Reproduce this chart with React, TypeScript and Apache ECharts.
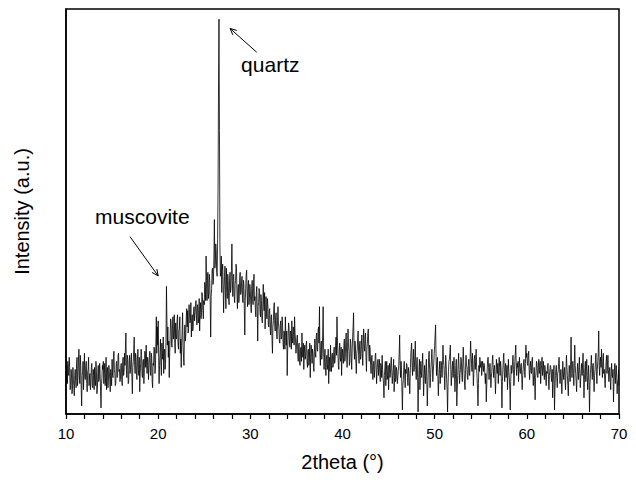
import React, { useEffect, useRef } from "react";
import * as echarts from "echarts";

// 2theta sampling grid (degrees)
const START_2THETA = 10;
const STEP_2THETA = 0.05;

// Intensity (a.u.), one value per 0.05 degree (20 per row = 1 degree)
const int10to20 = [
  80, 105, 120, 75, 130, 100, 95, 140, 115, 60, 70, 110, 100, 50, 60, 115, 85, 70, 45, 95,
  110, 80, 65, 125, 140, 70, 90, 130, 160, 95, 75, 145, 120, 60, 20, 95, 105, 130, 60, 100,
  150, 90, 85, 120, 130, 75, 55, 105, 110, 140, 70, 95, 100, 60, 80, 115, 125, 70, 65, 110,
  95, 60, 115, 85, 70, 130, 105, 50, 60, 100, 120, 80, 85, 125, 100, 55, 15, 75, 90, 120,
  110, 130, 75, 100, 125, 70, 90, 140, 60, 105, 115, 65, 80, 120, 105, 85, 55, 110, 95, 70,
  135, 95, 90, 140, 155, 110, 100, 70, 75, 125, 130, 90, 95, 145, 150, 105, 110, 80, 85, 120,
  125, 85, 70, 130, 140, 95, 105, 150, 120, 165, 200, 110, 90, 145, 135, 75, 80, 125, 145, 100,
  110, 135, 150, 90, 50, 115, 130, 160, 190, 120, 100, 150, 140, 95, 85, 135, 160, 110, 95, 140,
  55, 100, 125, 160, 145, 95, 90, 130, 135, 75, 110, 155, 150, 115, 170, 120, 100, 140, 130, 85,
  115, 145, 155, 105, 95, 150, 140, 80, 65, 125, 120, 165, 160, 100, 110, 175, 240, 150, 215, 170,
];
const int20to30 = [
  230, 140, 75, 120, 150, 185, 120, 95, 175, 150, 135, 190, 100, 145, 160, 110, 125, 180, 315, 230,
  170, 215, 140, 180, 90, 150, 190, 235, 230, 175, 165, 210, 240, 185, 200, 245, 175, 150, 225, 190,
  185, 230, 245, 175, 160, 205, 210, 240, 150, 185, 115, 170, 205, 250, 170, 140, 120, 195, 220, 180,
  195, 240, 260, 215, 255, 200, 210, 270, 250, 225, 230, 275, 190, 230, 245, 205, 215, 260, 265, 230,
  230, 265, 280, 245, 220, 270, 265, 225, 240, 285, 205, 250, 275, 235, 250, 300, 290, 255, 235, 280,
  270, 325, 315, 280, 390, 330, 280, 340, 350, 285, 300, 345, 325, 270, 190, 290, 310, 355, 360, 320,
  330, 390, 480, 360, 370, 420, 400, 350, 340, 430, 560, 820, 975, 700, 420, 340, 350, 390, 300, 355,
  370, 320, 250, 305, 340, 365, 300, 260, 360, 315, 285, 345, 330, 280, 270, 335, 350, 300, 310, 355,
  420, 330, 290, 340, 345, 290, 275, 320, 330, 370, 360, 295, 260, 310, 320, 275, 290, 340, 350, 295,
  300, 325, 340, 285, 275, 330, 320, 260, 195, 280, 310, 345, 355, 300, 265, 315, 330, 270, 285, 320,
];
const int30to40 = [
  305, 270, 250, 310, 330, 285, 270, 325, 345, 280, 290, 255, 240, 300, 315, 260, 180, 265, 275, 310,
  300, 250, 240, 295, 280, 235, 225, 265, 320, 270, 255, 300, 210, 240, 290, 250, 235, 285, 270, 220,
  215, 255, 260, 210, 195, 240, 245, 185, 150, 215, 230, 265, 275, 220, 205, 240, 250, 200, 185, 230,
  265, 225, 210, 180, 175, 220, 230, 185, 190, 240, 215, 175, 160, 205, 200, 160, 240, 195, 170, 205,
  95, 160, 190, 225, 215, 170, 165, 205, 200, 160, 230, 190, 175, 215, 210, 170, 240, 200, 185, 150,
  150, 185, 195, 145, 130, 170, 175, 125, 120, 160, 165, 130, 200, 150, 140, 175, 110, 150, 170, 135,
  145, 170, 180, 130, 115, 155, 160, 120, 130, 175, 90, 140, 170, 150, 125, 160, 150, 115, 105, 155,
  185, 150, 140, 190, 200, 160, 155, 205, 215, 175, 265, 150, 120, 170, 180, 135, 150, 200, 265, 160,
  110, 140, 160, 115, 95, 135, 145, 110, 125, 160, 75, 120, 140, 105, 170, 130, 105, 145, 150, 115,
  120, 155, 165, 125, 135, 170, 190, 145, 240, 180, 150, 120, 110, 160, 175, 140, 130, 165, 95, 140,
];
const int40to50 = [
  160, 135, 125, 170, 185, 130, 140, 180, 200, 150, 115, 165, 210, 170, 155, 120, 130, 185, 175, 140,
  110, 160, 190, 215, 250, 165, 135, 180, 170, 125, 100, 150, 160, 190, 205, 145, 125, 170, 180, 135,
  140, 170, 195, 150, 120, 175, 210, 165, 155, 190, 200, 140, 105, 160, 175, 200, 210, 155, 130, 170,
  160, 120, 100, 140, 145, 105, 85, 125, 130, 90, 110, 145, 150, 115, 75, 110, 125, 135, 95, 120,
  135, 100, 80, 125, 120, 90, 145, 110, 90, 75, 40, 95, 115, 130, 70, 105, 130, 85, 95, 120,
  60, 100, 125, 90, 100, 130, 140, 105, 75, 95, 110, 135, 55, 90, 120, 80, 85, 115, 105, 75,
  75, 105, 120, 150, 195, 120, 90, 130, 110, 60, 10, 70, 85, 115, 130, 95, 65, 110, 100, 125,
  120, 90, 70, 115, 105, 80, 50, 100, 140, 160, 175, 120, 95, 130, 160, 105, 115, 145, 180, 110,
  85, 125, 140, 90, 5, 70, 110, 135, 60, 95, 130, 105, 90, 125, 150, 100, 45, 85, 120, 95,
  75, 115, 135, 80, 20, 65, 100, 140, 155, 110, 65, 90, 115, 135, 160, 120, 80, 105, 125, 150,
];
const int50to60 = [
  170, 195, 220, 140, 95, 125, 140, 90, 45, 85, 110, 130, 75, 100, 130, 110, 90, 120, 170, 135,
  120, 95, 60, 110, 145, 120, 85, 60, 5, 70, 105, 130, 135, 150, 170, 110, 70, 95, 115, 130,
  90, 120, 140, 100, 55, 85, 120, 135, 20, 60, 95, 125, 150, 110, 75, 100, 110, 140, 130, 95,
  80, 125, 165, 130, 100, 70, 60, 110, 145, 120, 115, 90, 85, 120, 135, 100, 95, 140, 180, 145,
  125, 105, 150, 120, 70, 100, 135, 145, 110, 130, 160, 115, 90, 60, 20, 75, 120, 105, 140, 125,
  115, 130, 95, 110, 130, 120, 105, 125, 120, 95, 75, 100, 30, 70, 110, 135, 140, 115, 85, 105,
  125, 100, 65, 90, 105, 130, 145, 115, 90, 110, 120, 85, 50, 95, 135, 110, 100, 125, 75, 110,
  140, 115, 95, 130, 115, 70, 15, 80, 110, 135, 150, 105, 80, 115, 125, 90, 100, 120, 60, 95,
  135, 105, 90, 60, 10, 80, 120, 100, 105, 130, 145, 110, 70, 95, 130, 150, 170, 120, 95, 125,
  115, 130, 80, 115, 140, 105, 100, 120, 125, 90, 60, 95, 110, 130, 135, 105, 90, 125, 170, 140,
];
const int60to70 = [
  150, 125, 120, 145, 155, 110, 85, 115, 130, 105, 100, 130, 140, 100, 70, 95, 115, 80, 35, 90,
  105, 130, 125, 95, 90, 115, 135, 100, 110, 130, 75, 105, 120, 140, 95, 110, 130, 100, 85, 120,
  110, 90, 70, 105, 100, 120, 125, 85, 60, 95, 95, 120, 115, 90, 80, 110, 40, 75, 105, 120,
  10, 60, 95, 110, 120, 90, 65, 100, 105, 125, 140, 110, 75, 95, 110, 80, 50, 90, 130, 105,
  85, 105, 115, 80, 60, 110, 145, 115, 95, 70, 45, 90, 120, 100, 80, 130, 190, 120, 90, 125,
  130, 100, 70, 125, 170, 120, 100, 80, 55, 95, 125, 105, 85, 115, 140, 100, 65, 90, 110, 125,
  95, 125, 150, 100, 40, 85, 115, 130, 80, 105, 135, 95, 60, 90, 120, 80, 5, 70, 100, 120,
  145, 110, 85, 120, 125, 90, 55, 95, 110, 135, 150, 105, 75, 110, 130, 150, 205, 120, 95, 130,
  140, 115, 160, 125, 90, 130, 150, 100, 110, 85, 65, 100, 130, 145, 100, 120, 145, 110, 80, 105,
  115, 85, 60, 100, 125, 95, 90, 110, 30, 75, 105, 125, 75, 100, 120, 90, 50, 80, 85, 110,
  70,
];

const intensity = [
  ...int10to20,
  ...int20to30,
  ...int30to40,
  ...int40to50,
  ...int50to60,
  ...int60to70,
];

// Annotations in data coordinates [2theta, intensity]
const annotations = [
  { text: "quartz", label: [29.0, 862], tail: [30.7, 893], tip: [27.8, 952] },
  { text: "muscovite", label: [13.15, 488], tail: [16.94, 438], tip: [20.0, 341] },
];

export default function App() {
  const ref = useRef<HTMLDivElement>(null);

  useEffect(() => {
    if (!ref.current) return;
    const chart = echarts.init(ref.current, null, { renderer: "svg" });
    const data = intensity.map((v, i) => [
      Math.round((START_2THETA + i * STEP_2THETA) * 100) / 100,
      v,
    ]);
    const font = "Liberation Sans, Arial, sans-serif";

    chart.setOption({
      animation: false,
      backgroundColor: "#fff",
      grid: {
        left: 66,
        right: 17,
        top: 9,
        bottom: 70,
        containLabel: false,
        show: true,
        borderColor: "#000",
        borderWidth: 1.5,
        backgroundColor: "transparent",
      },
      xAxis: {
        type: "value",
        min: 10,
        max: 70,
        interval: 10,
        name: "2theta (°)",
        nameLocation: "middle",
        nameGap: 38,
        nameTextStyle: { fontFamily: font, fontSize: 20, color: "#000" },
        axisLine: { show: true, lineStyle: { color: "#000", width: 1.5 } },
        axisTick: { show: true, length: 5, lineStyle: { color: "#000", width: 1.2 } },
        minorTick: { show: true, splitNumber: 5, length: 5, lineStyle: { color: "#000", width: 1.2 } },
        axisLabel: { fontFamily: font, fontSize: 15, color: "#000", margin: 12 },
        splitLine: { show: false },
        minorSplitLine: { show: false },
      },
      yAxis: {
        type: "value",
        min: 0,
        max: 1000,
        name: "Intensity (a.u.)",
        nameLocation: "middle",
        nameGap: 34,
        nameTextStyle: { fontFamily: font, fontSize: 20, color: "#000" },
        axisLine: { show: true, lineStyle: { color: "#000", width: 1.5 } },
        axisTick: { show: false },
        axisLabel: { show: false },
        splitLine: { show: false },
      },
      series: [
        {
          type: "line",
          data,
          symbol: "none",
          showSymbol: false,
          lineStyle: { color: "#000", width: 0.8 },
        },
      ],
    });

    const graphics: any[] = [];
    annotations.forEach((a) => {
      const [lx, ly] = chart.convertToPixel({ gridIndex: 0 }, a.label) as number[];
      const [tx, ty] = chart.convertToPixel({ gridIndex: 0 }, a.tail) as number[];
      const [hx, hy] = chart.convertToPixel({ gridIndex: 0 }, a.tip) as number[];
      graphics.push({
        type: "text",
        x: lx,
        y: ly,
        style: {
          text: a.text,
          fontFamily: font,
          fontSize: 21,
          fill: "#000",
          textAlign: "left",
          textVerticalAlign: "middle",
        },
      });
      graphics.push({
        type: "line",
        shape: { x1: tx, y1: ty, x2: hx, y2: hy },
        style: { stroke: "#000", lineWidth: 1 },
      });
      const dx = hx - tx;
      const dy = hy - ty;
      const len = Math.sqrt(dx * dx + dy * dy);
      const ux = dx / len;
      const uy = dy / len;
      const armLen = 7;
      const ang = (25 * Math.PI) / 180;
      const arm = (s: number) => {
        const c = Math.cos(s * ang);
        const sn = Math.sin(s * ang);
        const rx = ux * c - uy * sn;
        const ry = ux * sn + uy * c;
        return [hx - rx * armLen, hy - ry * armLen];
      };
      graphics.push({
        type: "polyline",
        shape: { points: [arm(1), [hx, hy], arm(-1)] },
        style: { stroke: "#000", lineWidth: 1, fill: null },
      });
    });
    chart.setOption({ graphic: graphics });

    return () => chart.dispose();
  }, []);

  return (
    <div
      ref={ref}
      style={{ position: "absolute", left: 0, top: 0, width: 636, height: 484 }}
    />
  );
}
